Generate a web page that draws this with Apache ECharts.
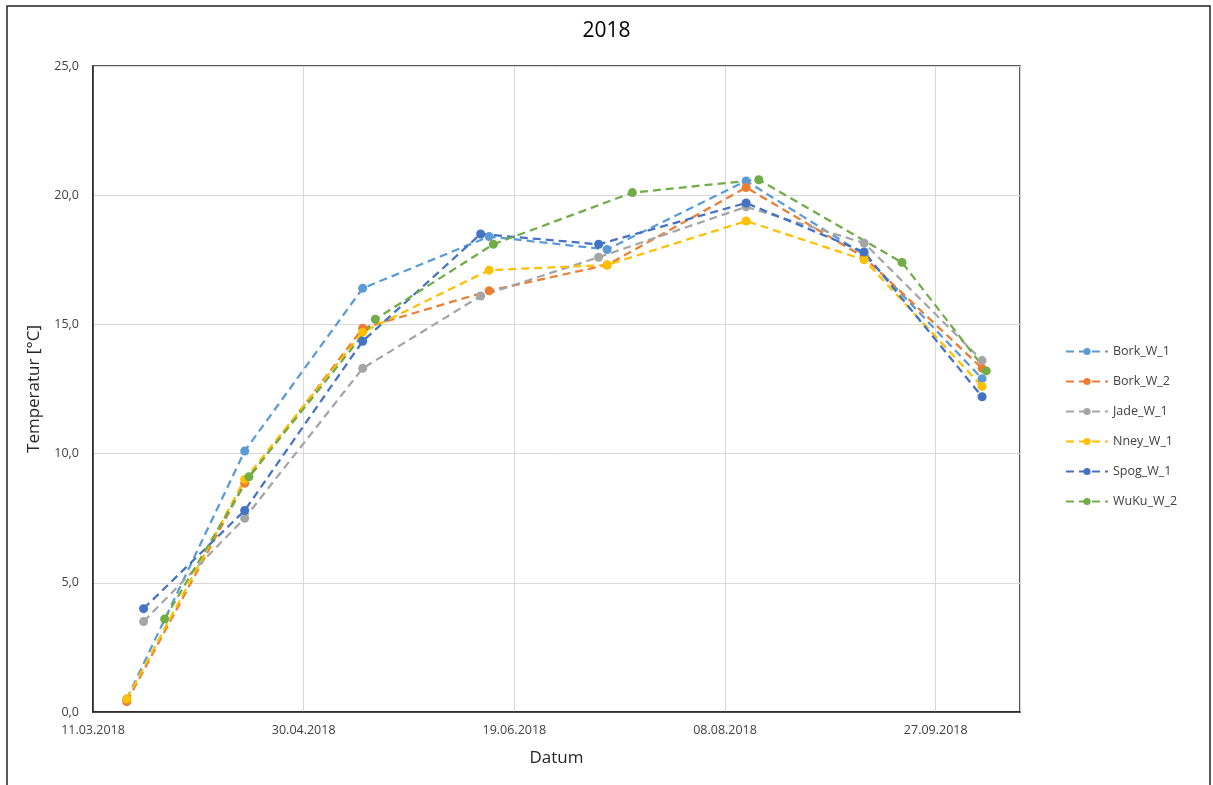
<!DOCTYPE html>
<html>
<head>
<meta charset="utf-8">
<script src="https://cdn.jsdelivr.net/npm/echarts@6/dist/echarts.min.js"></script>
<style>html,body{margin:0;padding:0;background:#fff}#c{width:1213px;height:785px}</style>
</head>
<body>
<div id="c"></div>
<script>
const seriesNames = ['Bork_W_1','Bork_W_2','Jade_W_1','Nney_W_1','Spog_W_1','WuKu_W_2'];
const colors = ['#5B9BD5','#ED7D31','#A5A5A5','#FFC000','#4472C4','#70AD47'];

const borkW1Dates = ['2018-03-19','2018-04-16','2018-05-14','2018-06-13','2018-07-11','2018-08-13','2018-09-10','2018-10-08'];
const borkW1Vals  = [0.5, 10.1, 16.4, 18.4, 17.9, 20.55, 17.7, 12.9];

const borkW2Dates = ['2018-03-19','2018-04-16','2018-05-14','2018-06-13','2018-07-11','2018-08-13','2018-09-10','2018-10-08'];
const borkW2Vals  = [0.4, 8.85, 14.85, 16.3, 17.3, 20.3, 17.6, 13.3];

const jadeW1Dates = ['2018-03-23','2018-04-16','2018-05-14','2018-06-11','2018-07-09','2018-08-13','2018-09-10','2018-10-08'];
const jadeW1Vals  = [3.5, 7.5, 13.3, 16.1, 17.6, 19.55, 18.15, 13.6];

const nneyW1Dates = ['2018-03-19','2018-04-16','2018-05-14','2018-06-13','2018-07-11','2018-08-13','2018-09-10','2018-10-08'];
const nneyW1Vals  = [0.5, 9.0, 14.7, 17.1, 17.3, 19.0, 17.5, 12.6];

const spogW1Dates = ['2018-03-23','2018-04-16','2018-05-14','2018-06-11','2018-07-09','2018-08-13','2018-09-10','2018-10-08'];
const spogW1Vals  = [4.0, 7.8, 14.35, 18.5, 18.1, 19.7, 17.8, 12.2];

const wukuW2Dates = ['2018-03-28','2018-04-17','2018-05-17','2018-06-14','2018-07-17','2018-08-16','2018-09-19','2018-10-09'];
const wukuW2Vals  = [3.6, 9.1, 15.2, 18.1, 20.1, 20.6, 17.4, 13.2];

const xTickStart = '2018-03-11';
const xTickEnd = '2018-10-17';
const xTickStepDays = 50;

const DAY = 86400000;
function toUTC(s){const p=s.split('-').map(Number);return Date.UTC(p[0],p[1]-1,p[2]);}
const startMs = toUTC(xTickStart);
function offset(s){return Math.round((toUTC(s)-startMs)/DAY);}
function fmtDate(v){
  const d=new Date(startMs+Math.round(v)*DAY);
  const dd=String(d.getUTCDate()).padStart(2,'0');
  const mm=String(d.getUTCMonth()+1).padStart(2,'0');
  return dd+'.'+mm+'.'+d.getUTCFullYear();
}

const allDates=[borkW1Dates,borkW2Dates,jadeW1Dates,nneyW1Dates,spogW1Dates,wukuW2Dates];
const allVals=[borkW1Vals,borkW2Vals,jadeW1Vals,nneyW1Vals,spogW1Vals,wukuW2Vals];

const font = 'Open Sans, Liberation Sans, sans-serif';

const series = seriesNames.map((n,i)=>({
  name:n,
  type:'line',
  data: allDates[i].map((d,j)=>[offset(d), allVals[i][j]]),
  symbol:'circle',
  symbolSize:9,
  itemStyle:{color:colors[i]},
  lineStyle:{color:colors[i], width:2.25, type:[8,5]},
  emphasis:{disabled:true},
  animation:false
}));

const chart = echarts.init(document.getElementById('c'));
chart.setOption({
  backgroundColor:'#fff',
  animation:false,
  title:{text:'2018', left:'center', top:16, textStyle:{fontFamily:font, fontSize:21, fontWeight:'normal', color:'#000'}},
  grid:{left:93, top:66, right:193, bottom:73, show:true, borderColor:'#222', borderWidth:1.5, backgroundColor:'transparent'},
  legend:{
    orient:'vertical', left:1060, top:340, itemGap:17, itemWidth:42, itemHeight:9,
    textStyle:{fontFamily:font, fontSize:12.5, color:'#404040'},
    data:seriesNames
  },
  xAxis:{
    type:'value', min:0, max:offset(xTickEnd), interval:xTickStepDays,
    name:'Datum', nameLocation:'middle', nameGap:38,
    nameTextStyle:{fontFamily:font, fontSize:17, color:'#262626'},
    axisLine:{show:true, lineStyle:{color:'#222', width:1.5}},
    axisTick:{show:false},
    axisLabel:{formatter:fmtDate, showMaxLabel:false, margin:12, fontFamily:font, fontSize:12.5, color:'#404040'},
    splitLine:{show:true, lineStyle:{color:'#D9D9D9', width:1}}
  },
  yAxis:{
    type:'value', min:0, max:25, interval:5,
    name:'Temperatur [°C]', nameLocation:'middle', nameGap:50,
    nameTextStyle:{fontFamily:font, fontSize:17, color:'#262626'},
    axisLine:{show:true, lineStyle:{color:'#222', width:1.5}},
    axisTick:{show:false},
    axisLabel:{formatter:v=>v.toFixed(1).replace('.',','), margin:14, fontFamily:font, fontSize:12.5, color:'#404040'},
    splitLine:{show:true, lineStyle:{color:'#D9D9D9', width:1}}
  },
  graphic:[{type:'rect', shape:{x:7, y:6, width:1203, height:800}, style:{fill:'none', stroke:'#222', lineWidth:1.5}, silent:true}],
  series:series
});
</script>
</body>
</html>
